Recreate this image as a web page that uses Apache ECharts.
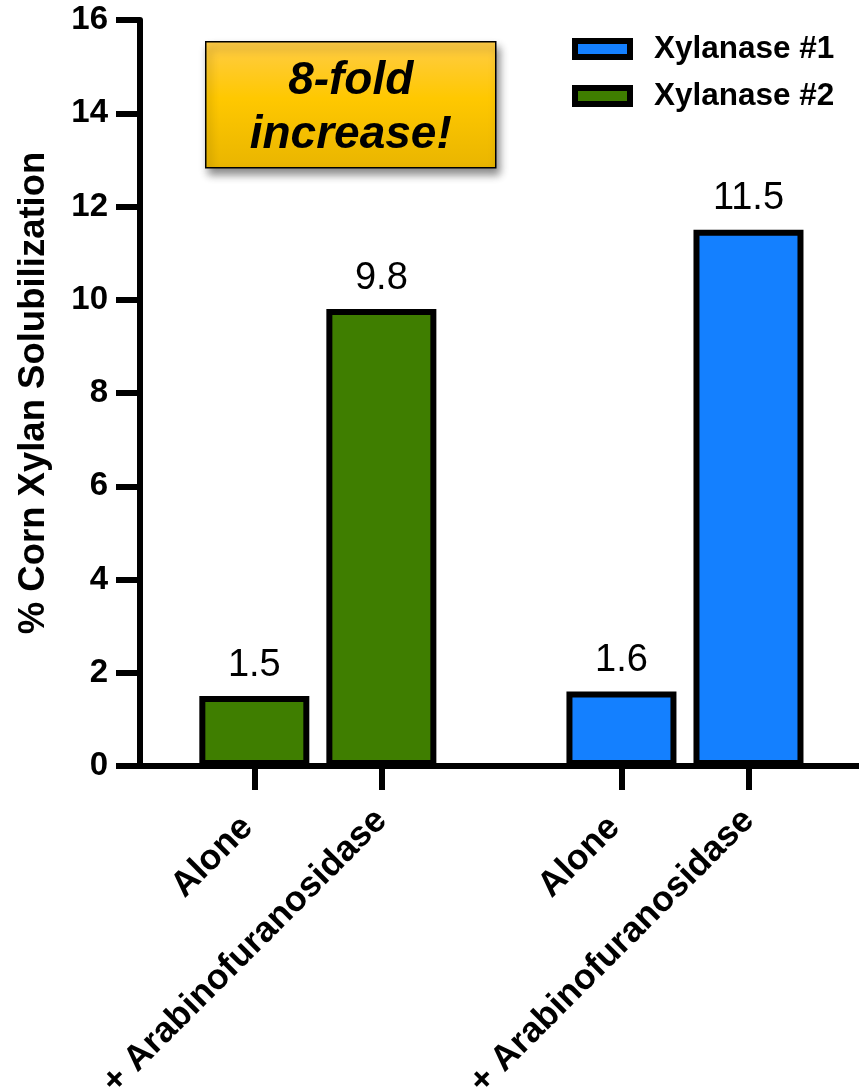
<!DOCTYPE html>
<html>
<head>
<meta charset="utf-8">
<title>Corn Xylan Solubilization</title>
<script src="https://cdn.jsdelivr.net/npm/echarts@6/dist/echarts.min.js"></script>
<style>
  html, body { margin: 0; padding: 0; background: #fff; }
  #chart { width: 859px; height: 1091px; }
</style>
</head>
<body>
<div id="chart"></div>
<script>
// Treatment labels shown under each bar
const categories = ['Alone', '+ Arabinofuranosidase', 'Alone', '+ Arabinofuranosidase'];
// % corn xylan solubilized per enzyme
const xylanase2Values = [1.5, 9.8];
const xylanase1Values = [1.6, 11.5];
const seriesNames = ['Xylanase #1', 'Xylanase #2'];
const yTicks = [0, 2, 4, 6, 8, 10, 12, 14, 16];

// Horizontal slots for the four bars (two groups with a wider gap between them)
const slots = [1, 2, 3.89, 4.89];

const FONT = '"Liberation Sans", Arial, Helvetica, sans-serif';
const GREEN = '#3F7E00';
const BLUE = '#1480FF';

const chart = echarts.init(document.getElementById('chart'), null, { renderer: 'canvas' });

const barLabel = {
  show: true,
  position: 'top',
  distance: 12,
  color: '#000',
  fontFamily: FONT,
  fontSize: 38,
  formatter: p => String(p.value[1])
};

const option = {
  animation: false,
  backgroundColor: '#fff',
  grid: { left: 140, right: 0, top: 20, bottom: 325, containLabel: false, outerBoundsMode: 'none' },
  legend: {
    data: seriesNames,
    orient: 'vertical',
    left: 567,
    top: 28,
    itemWidth: 55,
    itemHeight: 16,
    itemGap: 15,
    icon: 'rect',
    itemStyle: { borderColor: '#000', borderWidth: 6 },
    textStyle: { fontFamily: FONT, fontSize: 31.5, fontWeight: 'bold', color: '#000', padding: [0, 0, 0, 19] }
  },
  xAxis: {
    type: 'value',
    min: 0.1,
    max: 5.76,
    splitLine: { show: false },
    axisLine: { show: true, onZero: false, lineStyle: { color: '#000', width: 6 } },
    axisTick: { show: true, length: 24, lineStyle: { color: '#000', width: 6 }, customValues: slots },
    axisLabel: {
      customValues: slots,
      rotate: 45,
      margin: 49,
      color: '#000',
      fontFamily: FONT,
      fontSize: 35.5,
      fontWeight: 'bold',
      formatter: v => {
        const i = slots.findIndex(s => Math.abs(s - v) < 1e-6);
        if (i < 0) return '';
        return i % 2 === 0 ? '{short|' + categories[i] + '}' : categories[i];
      },
      rich: {
        short: { fontFamily: FONT, fontSize: 35.5, fontWeight: 'bold', color: '#000', padding: [0, 10, 0, 0] }
      }
    }
  },
  yAxis: {
    type: 'value',
    min: 0,
    max: 16,
    interval: 2,
    name: '% Corn Xylan Solubilization',
    nameLocation: 'middle',
    nameRotate: 90,
    nameGap: 88,
    nameTextStyle: { fontFamily: FONT, fontSize: 36.5, fontWeight: 'bold', color: '#000' },
    splitLine: { show: false },
    axisLine: { show: true, lineStyle: { color: '#000', width: 6 } },
    axisTick: { show: true, length: 24, lineStyle: { color: '#000', width: 6 } },
    axisLabel: {
      margin: 32,
      color: '#000',
      fontFamily: FONT,
      fontSize: 33,
      fontWeight: 'bold',
      formatter: v => yTicks.includes(v) ? String(v) : ''
    }
  },
  series: [
    {
      name: 'Xylanase #2',
      type: 'bar',
      barWidth: 110,
      barGap: '-100%',
      itemStyle: { color: GREEN, borderColor: '#000', borderWidth: 6 },
      label: barLabel,
      data: xylanase2Values.map((v, i) => [slots[i], v])
    },
    {
      name: 'Xylanase #1',
      type: 'bar',
      barWidth: 110,
      barGap: '-100%',
      itemStyle: { color: BLUE, borderColor: '#000', borderWidth: 6 },
      label: barLabel,
      data: xylanase1Values.map((v, i) => [slots[i + 2], v])
    }
  ],
  graphic: [
    {
      type: 'group',
      left: 205,
      top: 41,
      children: [
        {
          type: 'rect',
          shape: { x: 0, y: 0, width: 290, height: 126 },
          style: {
            fill: new echarts.graphic.LinearGradient(0, 0, 0, 1, [
              { offset: 0, color: '#FFCC48' },
              { offset: 0.45, color: '#FFC800' },
              { offset: 1, color: '#E9B500' }
            ]),
            stroke: '#000',
            lineWidth: 1.5,
            shadowBlur: 8,
            shadowOffsetX: 3,
            shadowOffsetY: 6,
            shadowColor: 'rgba(0,0,0,0.45)'
          }
        },
        {
          type: 'text',
          x: 145,
          y: 67,
          style: {
            text: '8-fold\nincrease!',
            fill: '#000',
            font: 'italic bold 46px ' + FONT,
            lineHeight: 54,
            align: 'center',
            verticalAlign: 'middle'
          }
        }
      ]
    }
  ]
};

chart.setOption(option);
</script>
</body>
</html>
